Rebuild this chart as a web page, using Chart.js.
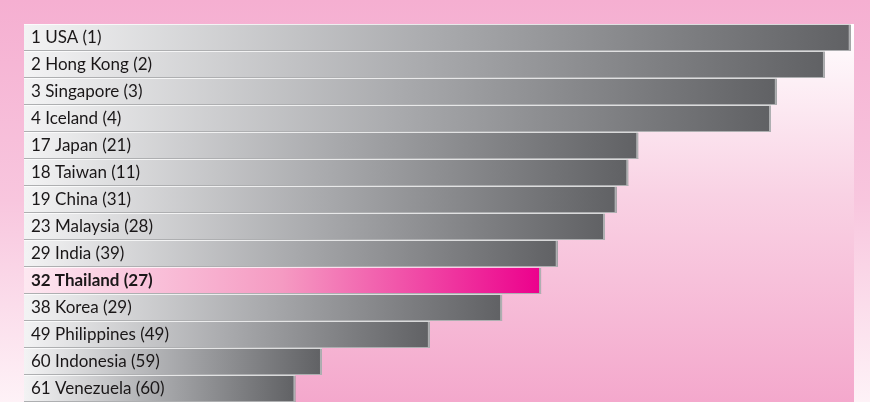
<!DOCTYPE html>
<html>
<head>
<meta charset="utf-8">
<script src="https://cdn.jsdelivr.net/npm/chart.js@4"></script>
<style>
  html, body { margin: 0; padding: 0; }
  body {
    width: 870px; height: 402px; overflow: hidden; position: relative;
    background: linear-gradient(to bottom, #f5afd1 0%, #f8c6de 50%, #fef2f7 100%);
  }
  #panel {
    position: absolute; left: 24px; top: 24px; width: 830px; height: 378px;
    background: linear-gradient(to bottom, #ffffff 0%, #f9d2e4 45%, #f4a8cc 100%);
  }
</style>
</head>
<body>
<div id="panel"><canvas id="chart"></canvas></div>
<script>
// ── Data: rank, country, (previous rank) ──
const LABELS = [
  '1 USA (1)', '2 Hong Kong (2)', '3 Singapore (3)', '4 Iceland (4)',
  '17 Japan (21)', '18 Taiwan (11)', '19 China (31)', '23 Malaysia (28)',
  '29 India (39)', '32 Thailand (27)', '38 Korea (29)', '49 Philippines (49)',
  '60 Indonesia (59)', '61 Venezuela (60)'
];
// scores (USA ≈ 100)
const SCORES = [99.6, 96.5, 90.7, 90.0, 74.0, 72.8, 71.4, 70.0, 64.3, 62.3, 57.6, 48.9, 35.9, 32.7];
const HIGHLIGHT = 9;   // Thailand

// ── Per-bar horizontal gradient (light → dark at bar end) ──
function barFill(c) {
  const chart = c.chart;
  if (!chart.chartArea || c.raw == null) return '#888';
  const x = chart.scales.x;
  const x0 = x.getPixelForValue(0), x1 = x.getPixelForValue(c.raw);
  const g = chart.ctx.createLinearGradient(x0, 0, x1, 0);
  if (c.dataIndex === HIGHLIGHT) {
    g.addColorStop(0, '#fde8f1');
    g.addColorStop(0.5, '#f59ac2');
    g.addColorStop(1, '#ec008c');
  } else {
    g.addColorStop(0, '#f3f3f4');
    g.addColorStop(0.5, '#a9aaad');
    g.addColorStop(1, '#606164');
  }
  return g;
}

// gray shadow on bar right edge / bottom
const barShadow = {
  id: 'barShadow',
  afterDatasetsDraw(chart) {
    const { ctx } = chart;
    ctx.save();
    ctx.fillStyle = '#aeafb1';
    chart.getDatasetMeta(0).data.forEach(b => {
      const top = b.y - b.height / 2, bot = b.y + b.height / 2;
      ctx.fillRect(b.x - 2, top + 1, 2, bot - top - 1);
      ctx.fillRect(b.base, bot - 1, b.x - b.base, 1);
    });
    ctx.restore();
  }
};

new Chart(document.getElementById('chart'), {
  type: 'bar',
  data: {
    labels: LABELS,
    datasets: [{
      data: SCORES,
      backgroundColor: barFill,
      borderColor: '#ffffff',
      borderWidth: { top: 1, bottom: 0, left: 0, right: 0 },
      borderSkipped: false,
      barPercentage: 1,
      categoryPercentage: 1
    }]
  },
  options: {
    indexAxis: 'y',
    responsive: true, maintainAspectRatio: false,
    animation: false,
    layout: { padding: 0 },
    plugins: { legend: { display: false }, tooltip: { enabled: false } },
    scales: {
      x: { min: 0, max: 100, display: false },
      y: {
        grid: { display: false, drawTicks: false },
        border: { display: false },
        ticks: {
          z: 1,   // labels on top of the bars
          mirror: true, padding: 7, color: '#1a1718',
          font: c => ({ family: 'Lato, sans-serif', size: 17, weight: c.index === HIGHLIGHT ? 'bold' : 'normal' })
        },
        afterFit: s => { s.width = 0; s.paddingTop = 0; s.paddingBottom = 0; }
      }
    }
  },
  plugins: [barShadow]
});
</script>
</body>
</html>
